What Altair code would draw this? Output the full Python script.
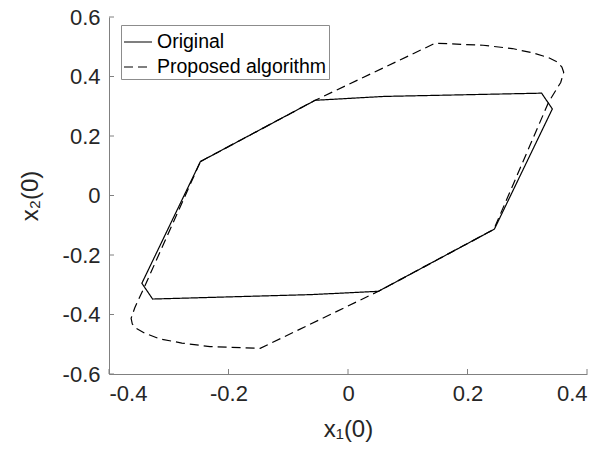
import altair as alt
import pandas as pd

# Original polygon (closed)
orig_x = [-0.247, -0.055, 0.060, 0.324, 0.342, 0.245, 0.051, -0.060, -0.327, -0.345, -0.247]
orig_y = [0.114, 0.320, 0.333, 0.344, 0.291, -0.113, -0.322, -0.333, -0.348, -0.295, 0.114]

# Proposed algorithm (closed curve)
prop_x = [-0.247, -0.055, 0.146, 0.226, 0.275, 0.310, 0.336, 0.350, 0.358, 0.361, 0.356, 0.336,
          0.244, 0.051, -0.147, -0.231, -0.278, -0.315, -0.340, -0.354, -0.361, -0.363, -0.357,
          -0.340, -0.247]
prop_y = [0.114, 0.320, 0.512, 0.505, 0.494, 0.479, 0.463, 0.449, 0.432, 0.414, 0.380, 0.315,
          -0.114, -0.322, -0.514, -0.508, -0.496, -0.482, -0.463, -0.447, -0.432, -0.413, -0.378,
          -0.304, 0.114]

series_names = ["Original", "Proposed algorithm"]
x_ticks = [-0.4, -0.2, 0.0, 0.2, 0.4]
y_ticks = [-0.6, -0.4, -0.2, 0.0, 0.2, 0.4, 0.6]

rows = []
for i, (a, b) in enumerate(zip(orig_x, orig_y)):
    rows.append({"series": series_names[0], "i": i, "x": a, "y": b})
for i, (a, b) in enumerate(zip(prop_x, prop_y)):
    rows.append({"series": series_names[1], "i": i, "x": a, "y": b})
df = pd.DataFrame(rows)

FONT = "Liberation Sans"
W, H = 478, 357
label_expr = "toString(round(datum.value*10)/10)"

xscale = alt.Scale(domain=[-0.4, 0.4], nice=False, zero=False)
yscale = alt.Scale(domain=[-0.6, 0.6], nice=False, zero=False)
xaxis = alt.Axis(values=x_ticks, title="x₁(0)", labelExpr=label_expr, tickSize=0,
                 labelPadding=9, titlePadding=13, grid=False)
yaxis = alt.Axis(values=y_ticks, title="x₂(0)", labelExpr=label_expr, tickSize=0,
                 labelPadding=9, titlePadding=20, grid=False)

lines = alt.Chart(df).mark_line(strokeWidth=1.2, color="black").encode(
    x=alt.X("x:Q", scale=xscale, axis=xaxis),
    y=alt.Y("y:Q", scale=yscale, axis=yaxis),
    strokeDash=alt.StrokeDash("series:N", scale=alt.Scale(
        domain=series_names, range=[[1, 0], [9, 5]]), legend=alt.Legend(title=None)),
    order="i:Q",
)

xt = alt.Chart(pd.DataFrame({"x": x_ticks})).mark_rule(color="#808080", strokeWidth=1).encode(
    x=alt.X("x:Q", scale=xscale, axis=xaxis),
    y=alt.value(H), y2=alt.value(H - 5),
)
yt = alt.Chart(pd.DataFrame({"y": y_ticks})).mark_rule(color="#808080", strokeWidth=1).encode(
    y=alt.Y("y:Q", scale=yscale, axis=yaxis),
    x=alt.value(0), x2=alt.value(5),
)

chart = alt.layer(lines, xt, yt).properties(
    width=W, height=H,
    autosize=alt.AutoSizeParams(type="none"),
    padding={"left": 109, "top": 17, "right": 18, "bottom": 77},
).configure_view(stroke=None).configure_axis(
    domainColor="#808080", domainWidth=1,
    labelFont=FONT, labelFontSize=22, labelColor="#262626",
    titleFont=FONT, titleFontSize=24, titleColor="#262626", titleFontWeight="normal",
).configure_legend(
    orient="none", legendX=12, legendY=8,
    strokeColor="#8c8c8c", fillColor="white", padding=2,
    labelFont=FONT, labelFontSize=19.5, labelColor="black", labelLimit=400,
    symbolType="stroke", symbolSize=784, symbolStrokeWidth=1.2,
    symbolStrokeColor="black", labelOffset=4, rowPadding=-2,
    cornerRadius=0,
)

chart.save("out.html", embed_options={"renderer": "svg", "actions": False})
